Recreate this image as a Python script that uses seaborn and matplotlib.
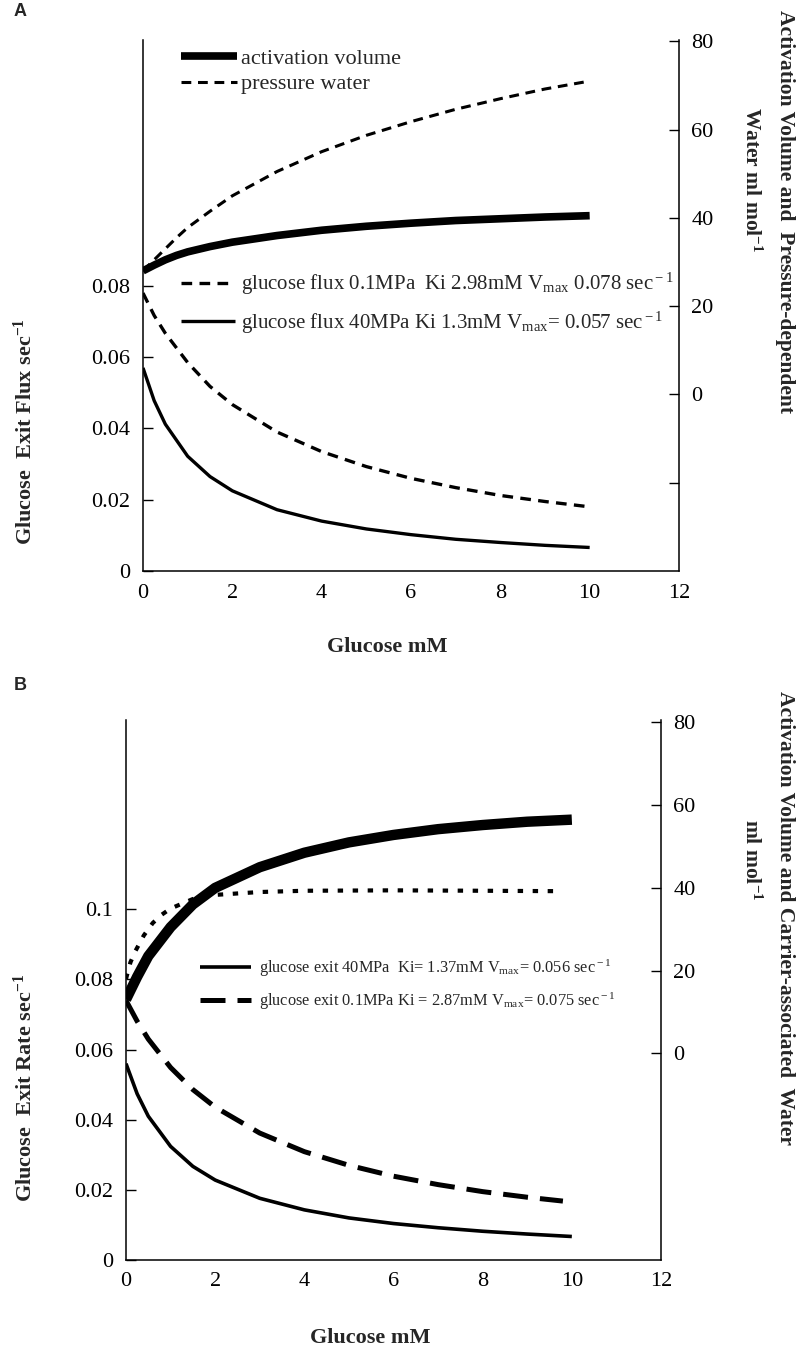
import matplotlib
matplotlib.use("Agg")
import matplotlib.pyplot as plt
import seaborn as sns

# ---------------- data ----------------
# Panel A: glucose exit flux (left axis) at two pressures
a_glucose = [0, 0.25, 0.5, 1, 1.5, 2, 3, 4, 5, 6, 7, 8, 9, 10]
a_flux_01mpa = [0.078, 0.0717, 0.0667, 0.0585, 0.0518, 0.0467, 0.0390, 0.0335,
                0.0293, 0.0260, 0.0234, 0.0212, 0.0195, 0.0180]
a_flux_40mpa = [0.057, 0.0478, 0.0412, 0.0322, 0.0265, 0.0225, 0.0172, 0.0140,
                0.0118, 0.0102, 0.0089, 0.0080, 0.0072, 0.0066]
# Panel A: activation volume and pressure-dependent water (right axis)
a_vol_glucose = [0, 0.25, 0.5, 0.75, 1, 1.5, 2, 3, 4, 5, 6, 7, 8, 9, 10]
a_activation_volume = [28, 29.3, 30.5, 31.5, 32.3, 33.5, 34.5, 36, 37.2, 38.1,
                       38.8, 39.4, 39.8, 40.2, 40.5]
a_pressure_water = [28, 30.5, 33, 35.5, 37.8, 41.5, 45, 50.5, 55, 58.7, 61.8,
                    64.6, 67, 69.2, 71]

# Panel B: glucose exit rate (left axis)
b_glucose = [0, 0.25, 0.5, 1, 1.5, 2, 3, 4, 5, 6, 7, 8, 9, 10]
b_exit_40mpa = [0.056, 0.0474, 0.0410, 0.0324, 0.0267, 0.0228, 0.0176, 0.0143,
                0.0120, 0.0104, 0.0092, 0.0082, 0.0074, 0.0067]
b_glucose_01 = [0, 0.25, 0.5, 1, 1.5, 2, 3, 4, 5, 6, 7, 8, 9, 9.8]
b_exit_01mpa = [0.074, 0.0681, 0.0630, 0.0549, 0.0486, 0.0436, 0.0362, 0.0309,
                0.0270, 0.0239, 0.0215, 0.0195, 0.0179, 0.0168]
# Panel B: activation volume and carrier-associated water (right axis)
b_vol_glucose = [0, 0.25, 0.5, 1, 1.5, 2, 3, 4, 5, 6, 7, 8, 9, 10]
b_activation_volume = [13, 18.5, 23.5, 30.5, 36, 40, 45, 48.5, 51, 52.8, 54.2,
                       55.2, 56, 56.5]
b_water_glucose = [0, 0.1, 0.2, 0.4, 0.6, 0.8, 1, 1.5, 2, 3, 4, 6, 8, 9.75]
b_carrier_water = [18, 22, 24.5, 28.5, 31.5, 33.5, 35, 37.3, 38.3, 39, 39.3,
                   39.4, 39.3, 39.2]

x_ticks = [0, 2, 4, 6, 8, 10, 12]
a_left_ticks = [0, 0.02, 0.04, 0.06, 0.08]
a_left_labels = ["0", "0.02", "0.04", "0.06", "0.08"]
a_right_ticks = [-20, 0, 20, 40, 60, 80]
a_right_labels = ["", "0", "20", "40", "60", "80"]
b_left_ticks = [0, 0.02, 0.04, 0.06, 0.08, 0.1]
b_left_labels = ["0", "0.02", "0.04", "0.06", "0.08", "0.1"]
b_right_ticks = [0, 20, 40, 60, 80]
b_right_labels = ["0", "20", "40", "60", "80"]

a_legend_top = ["activation volume", "pressure water"]
a_legend_low = [r"glucose flux 0.1MPa  Ki 2.98mM V$_{\rm max}$ 0.078 sec$^{\rm -1}$",
                r"glucose flux 40MPa Ki 1.3mM V$_{\rm max}$= 0.057 sec$^{\rm -1}$"]
b_legend = [r"glucose exit 40MPa  Ki= 1.37mM V$_{\rm max}$= 0.056 sec$^{\rm -1}$",
            r"glucose exit 0.1MPa Ki = 2.87mM V$_{\rm max}$= 0.075 sec$^{\rm -1}$"]

# ---------------- style ----------------
sns.set_theme(style="white")
plt.rcParams["font.family"] = ["Liberation Serif", "DejaVu Serif"]
plt.rcParams["mathtext.fontset"] = "custom"
plt.rcParams["mathtext.rm"] = "Liberation Serif"
plt.rcParams["mathtext.it"] = "Liberation Serif:italic"
plt.rcParams["mathtext.bf"] = "Liberation Serif:bold"

W, H = 799, 1352
fig = plt.figure(figsize=(W / 100, H / 100), dpi=100)
fig.patch.set_facecolor("white")

TICK_FS = 16


def style_axes(ax, ax2):
    for a in (ax, ax2):
        a.set_facecolor("none")
        a.spines["top"].set_visible(False)
        for s in a.spines.values():
            s.set_color("black")
            s.set_linewidth(1.1)
        a.tick_params(direction="in", length=7, width=1.0, colors="black",
                      labelsize=TICK_FS, pad=9)
        a.grid(False)
    ax.spines["right"].set_visible(False)
    ax2.spines["left"].set_visible(False)
    ax2.spines["bottom"].set_visible(False)
    ax.set_xlim(0, 12)
    ax.set_xticks(x_ticks)
    ax.set_xticklabels([str(t) for t in x_ticks])
    ax.set_xlabel("")
    ax.set_ylabel("")
    ax2.set_ylabel("")


def line(ax, x, y, lw, ls, label):
    sns.lineplot(x=x, y=y, ax=ax, color="black", linewidth=lw, linestyle=ls,
                 label=label, legend=False, estimator=None, sort=False)
    ln = ax.get_lines()[-1]
    ln.set_solid_capstyle("butt")
    ln.set_dash_capstyle("butt")
    return ln


# ---------------- panel A ----------------
axA = fig.add_axes([143 / W, 1 - 571 / H, (679 - 143) / W, (571 - 40) / H])
axA2 = axA.twinx()

l_a01 = line(axA, a_glucose, a_flux_01mpa, 2.4, (0, (3.2, 2.2)), a_legend_low[0])
l_a40 = line(axA, a_glucose, a_flux_40mpa, 2.4, "-", a_legend_low[1])
l_av = line(axA2, a_vol_glucose, a_activation_volume, 5.5, "-", a_legend_top[0])
l_pw = line(axA2, a_vol_glucose, a_pressure_water, 2.2, (0, (3.2, 2.2)), a_legend_top[1])

style_axes(axA, axA2)
axA.set_ylim(0, 0.149)
axA.set_yticks(a_left_ticks)
axA.set_yticklabels(a_left_labels)
axA2.set_ylim(-40, 80.3)
axA2.set_yticks(a_right_ticks)
axA2.set_yticklabels(a_right_labels)

legA1 = axA2.legend([l_av, l_pw], a_legend_top, loc="upper left",
                    bbox_to_anchor=(0.071, 0.984), frameon=False, fontsize=16,
                    handlelength=2.5, handletextpad=0.2, labelspacing=0.22,
                    borderpad=0, borderaxespad=0)
axA2.add_artist(legA1)
axA2.legend([l_a01, l_a40], a_legend_low, loc="upper left",
            bbox_to_anchor=(0.071, 0.565), frameon=False, fontsize=15,
            handlelength=2.6, handletextpad=0.3, labelspacing=0.6,
            borderpad=0, borderaxespad=0)

# ---------------- panel B ----------------
axB = fig.add_axes([126 / W, 1 - 1260 / H, (661 - 126) / W, (1260 - 720) / H])
axB2 = axB.twinx()

l_b40 = line(axB, b_glucose, b_exit_40mpa, 2.6, "-", b_legend[0])
l_b01 = line(axB, b_glucose_01, b_exit_01mpa, 3.6, (0, (5, 2.4)), b_legend[1])
l_bav = line(axB2, b_vol_glucose, b_activation_volume, 7.5, "-", "activation volume")
l_bw = line(axB2, b_water_glucose, b_carrier_water, 3.0, (0, (1.3, 2.3)), "carrier water")

style_axes(axB, axB2)
axB.set_ylim(0, 0.154)
axB.set_yticks(b_left_ticks)
axB.set_yticklabels(b_left_labels)
axB2.set_ylim(-50, 80.6)
axB2.set_yticks(b_right_ticks)
axB2.set_yticklabels(b_right_labels)

axB2.legend([l_b40, l_b01], b_legend, loc="upper left",
            bbox_to_anchor=(0.138, 0.56), frameon=False, fontsize=11.8,
            handlelength=3.1, handletextpad=0.5, labelspacing=0.7,
            borderpad=0, borderaxespad=0)

# ---------------- labels ----------------
LAB_FS = 16
RLAB_FS = 15.5
fig.text(14 / W, 1 - 12 / H, "A", fontsize=13, fontweight="bold",
         family=["Liberation Sans", "DejaVu Sans"], ha="left", va="center")
fig.text(14 / W, 1 - 686 / H, "B", fontsize=13, fontweight="bold",
         family=["Liberation Sans", "DejaVu Sans"], ha="left", va="center")

fig.text(387 / W, 1 - 647 / H, "Glucose mM", fontsize=LAB_FS, fontweight="bold",
         ha="center", va="center")
fig.text(370 / W, 1 - 1338 / H, "Glucose mM", fontsize=LAB_FS, fontweight="bold",
         ha="center", va="center")

fig.text(25 / W, 1 - 432 / H, r"Glucose  Exit Flux sec$^{\mathbf{-1}}$",
         fontsize=LAB_FS, fontweight="bold", rotation=90, ha="center", va="center")
fig.text(25 / W, 1 - 1088 / H, r"Glucose  Exit Rate sec$^{\mathbf{-1}}$",
         fontsize=LAB_FS, fontweight="bold", rotation=90, ha="center", va="center")

fig.text(785 / W, 1 - 212 / H, "Activation Volume and  Pressure-dependent",
         fontsize=RLAB_FS, fontweight="bold", rotation=270, ha="center", va="center")
fig.text(751 / W, 1 - 180 / H, r"Water ml mol$^{\mathbf{-1}}$",
         fontsize=RLAB_FS, fontweight="bold", rotation=270, ha="center", va="center")
fig.text(785 / W, 1 - 918 / H, "Activation Volume and Carrier-associated  Water",
         fontsize=RLAB_FS, fontweight="bold", rotation=270, ha="center", va="center")
fig.text(751 / W, 1 - 860 / H, r"ml mol$^{\mathbf{-1}}$",
         fontsize=RLAB_FS, fontweight="bold", rotation=270, ha="center", va="center")

fig.savefig("out.png", dpi=100, facecolor="white")
